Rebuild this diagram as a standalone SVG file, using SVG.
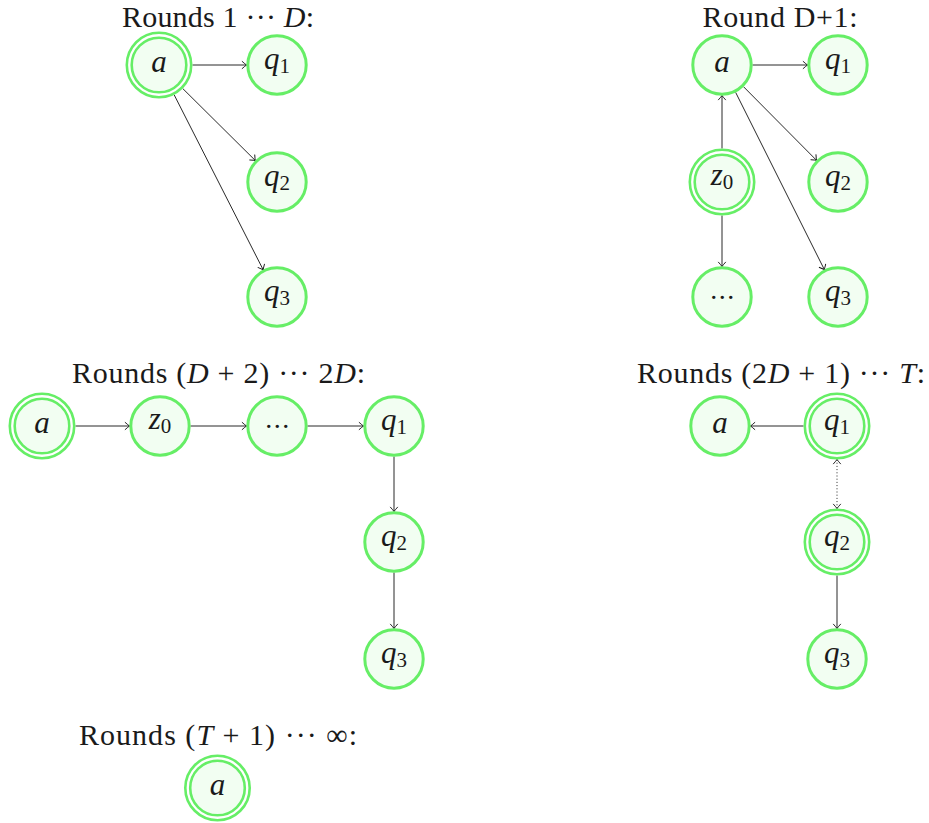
<svg xmlns="http://www.w3.org/2000/svg" width="929" height="823" viewBox="0 0 929 823">
  <style>
    .bg { fill: #ffffff; }
    .ring { fill: #f2fef2; stroke: #66ee66; stroke-width: 3; }
    .outer { fill: #ffffff; stroke: #66ee66; stroke-width: 2.6; }
    .inner { fill: #f2fef2; stroke: #66ee66; stroke-width: 2.6; }
    .lbl { font-family: "Liberation Serif", "DejaVu Serif", serif; font-size: 31px; font-style: italic; fill: #1a1a1a; text-anchor: middle; }
    .sub { font-style: normal; font-size: 21px; }
    .dots { font-family: "Liberation Serif", "DejaVu Serif", serif; font-size: 28px; fill: #1a1a1a; text-anchor: middle; letter-spacing: 1.5px; }
    .title { font-family: "Liberation Serif", "DejaVu Serif", serif; font-size: 30px; fill: #1a1a1a; text-anchor: middle; }
    .it { font-style: italic; }
    .edge { stroke: #111; stroke-width: 0.9; fill: none; marker-end: url(#tip); }
    .dotted { stroke-dasharray: 1 2.2; marker-start: url(#tip); }
  </style>
  <defs>
    <marker id="tip" viewBox="-6 -5 8 10" refX="0" refY="0" markerWidth="8" markerHeight="10" markerUnits="userSpaceOnUse" orient="auto-start-reverse">
      <path d="M-4.6,-3.8 Q-1.2,-0.8 0,0 Q-1.2,0.8 -4.6,3.8" fill="none" stroke="#111" stroke-width="0.9"/>
    </marker>
  </defs>
  <rect class="bg" x="0" y="0" width="929" height="823"/>

  <!-- panel titles -->
  <g id="titles">
    <text class="title" x="218" y="27" textLength="192" lengthAdjust="spacing">Rounds 1 ··· <tspan class="it">D</tspan>:</text>
    <text class="title" x="780" y="27" textLength="155" lengthAdjust="spacing">Round D+1:</text>
    <text class="title" x="218.5" y="383" textLength="293" lengthAdjust="spacing">Rounds (<tspan class="it">D</tspan> + 2) ··· 2<tspan class="it">D</tspan>:</text>
    <text class="title" x="781" y="383" textLength="288" lengthAdjust="spacing">Rounds (2<tspan class="it">D</tspan> + 1) ··· <tspan class="it">T</tspan>:</text>
    <text class="title" x="218" y="745" textLength="278" lengthAdjust="spacing">Rounds (<tspan class="it">T</tspan> + 1) ··· ∞:</text>
  </g>

  <!-- connectors -->
  <g id="connectors">
    <!-- rounds 1..D -->
    <line class="edge" x1="192.5" y1="65" x2="246.5" y2="65"/>
    <line class="edge" x1="182.8" y1="88.6" x2="255.3" y2="160.5"/>
    <line class="edge" x1="174.2" y1="94.9" x2="263.2" y2="269.8"/>
    <!-- round D+1 -->
    <line class="edge" x1="752.5" y1="65" x2="807.5" y2="65"/>
    <line class="edge" x1="743.5" y1="86.7" x2="816.5" y2="160.3"/>
    <line class="edge" x1="735.6" y1="92.3" x2="824.4" y2="269.7"/>
    <line class="edge" x1="722" y1="148.5" x2="722" y2="95.5"/>
    <line class="edge" x1="722" y1="215.5" x2="722" y2="266.5"/>
    <!-- rounds D+2..2D -->
    <line class="edge" x1="75.5" y1="426" x2="129.5" y2="426"/>
    <line class="edge" x1="190.5" y1="426" x2="246.5" y2="426"/>
    <line class="edge" x1="307.5" y1="426" x2="363.5" y2="426"/>
    <line class="edge" x1="394" y1="456.5" x2="394" y2="511.5"/>
    <line class="edge" x1="394" y1="572.5" x2="394" y2="628.5"/>
    <!-- rounds 2D+1..T -->
    <line class="edge" x1="803.5" y1="426" x2="750.5" y2="426"/>
    <line class="edge dotted" x1="837" y1="459.5" x2="837" y2="508.5"/>
    <line class="edge" x1="837" y1="575.5" x2="837" y2="628.5"/>
  </g>

  <!-- rounds 1..D -->
  <g id="r1-a">
    <circle class="outer" cx="159" cy="65" r="32.2"/>
    <circle class="inner" cx="159" cy="65" r="27.3"/>
    <text class="lbl" x="159" y="72">a</text>
  </g>
  <g id="r1-q1">
    <circle class="ring" cx="277" cy="65" r="29.2"/>
    <text class="lbl" x="277" y="68.5">q<tspan class="sub" dy="4">1</tspan></text>
  </g>
  <g id="r1-q2">
    <circle class="ring" cx="277" cy="182" r="29.2"/>
    <text class="lbl" x="277" y="185.5">q<tspan class="sub" dy="4">2</tspan></text>
  </g>
  <g id="r1-q3">
    <circle class="ring" cx="277" cy="297" r="29.2"/>
    <text class="lbl" x="277" y="300.5">q<tspan class="sub" dy="4">3</tspan></text>
  </g>

  <!-- round D+1 -->
  <g id="r2-a">
    <circle class="ring" cx="722" cy="65" r="29.2"/>
    <text class="lbl" x="722" y="72">a</text>
  </g>
  <g id="r2-q1">
    <circle class="ring" cx="838" cy="65" r="29.2"/>
    <text class="lbl" x="838" y="68.5">q<tspan class="sub" dy="4">1</tspan></text>
  </g>
  <g id="r2-z0">
    <circle class="outer" cx="722" cy="182" r="32.2"/>
    <circle class="inner" cx="722" cy="182" r="27.3"/>
    <text class="lbl" x="722" y="185">z<tspan class="sub" dy="4">0</tspan></text>
  </g>
  <g id="r2-q2">
    <circle class="ring" cx="838" cy="182" r="29.2"/>
    <text class="lbl" x="838" y="185.5">q<tspan class="sub" dy="4">2</tspan></text>
  </g>
  <g id="r2-dots">
    <circle class="ring" cx="722" cy="297" r="29.2"/>
    <text class="dots" x="723" y="298.5">...</text>
  </g>
  <g id="r2-q3">
    <circle class="ring" cx="838" cy="297" r="29.2"/>
    <text class="lbl" x="838" y="300.5">q<tspan class="sub" dy="4">3</tspan></text>
  </g>

  <!-- rounds D+2..2D -->
  <g id="r3-a">
    <circle class="outer" cx="42" cy="426" r="32.2"/>
    <circle class="inner" cx="42" cy="426" r="27.3"/>
    <text class="lbl" x="42" y="433">a</text>
  </g>
  <g id="r3-z0">
    <circle class="ring" cx="160" cy="426" r="29.2"/>
    <text class="lbl" x="160" y="429">z<tspan class="sub" dy="4">0</tspan></text>
  </g>
  <g id="r3-dots">
    <circle class="ring" cx="277" cy="426" r="29.2"/>
    <text class="dots" x="278" y="427.5">...</text>
  </g>
  <g id="r3-q1">
    <circle class="ring" cx="394" cy="426" r="29.2"/>
    <text class="lbl" x="394" y="429.5">q<tspan class="sub" dy="4">1</tspan></text>
  </g>
  <g id="r3-q2">
    <circle class="ring" cx="394" cy="542" r="29.2"/>
    <text class="lbl" x="394" y="545.5">q<tspan class="sub" dy="4">2</tspan></text>
  </g>
  <g id="r3-q3">
    <circle class="ring" cx="394" cy="659" r="29.2"/>
    <text class="lbl" x="394" y="662.5">q<tspan class="sub" dy="4">3</tspan></text>
  </g>

  <!-- rounds 2D+1..T -->
  <g id="r4-a">
    <circle class="ring" cx="720" cy="426" r="29.2"/>
    <text class="lbl" x="720" y="433">a</text>
  </g>
  <g id="r4-q1">
    <circle class="outer" cx="837" cy="426" r="32.2"/>
    <circle class="inner" cx="837" cy="426" r="27.3"/>
    <text class="lbl" x="837" y="429.5">q<tspan class="sub" dy="4">1</tspan></text>
  </g>
  <g id="r4-q2">
    <circle class="outer" cx="837" cy="542" r="32.2"/>
    <circle class="inner" cx="837" cy="542" r="27.3"/>
    <text class="lbl" x="837" y="545.5">q<tspan class="sub" dy="4">2</tspan></text>
  </g>
  <g id="r4-q3">
    <circle class="ring" cx="837" cy="659" r="29.2"/>
    <text class="lbl" x="837" y="662.5">q<tspan class="sub" dy="4">3</tspan></text>
  </g>

  <!-- rounds T+1..infinity -->
  <g id="r5-a">
    <circle class="outer" cx="217.5" cy="788" r="32.2"/>
    <circle class="inner" cx="217.5" cy="788" r="27.3"/>
    <text class="lbl" x="217.5" y="795">a</text>
  </g>
</svg>
